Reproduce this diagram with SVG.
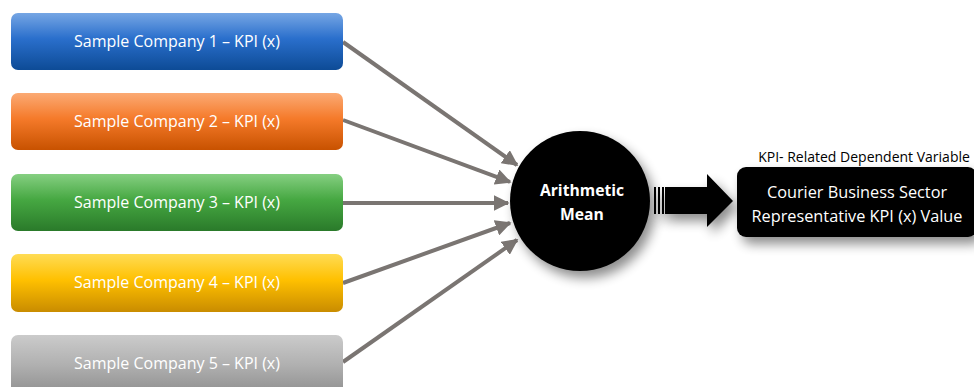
<svg xmlns="http://www.w3.org/2000/svg" width="974" height="387" viewBox="0 0 974 387">
<defs>
<linearGradient id="gBlue" x1="0" y1="0" x2="0" y2="1"><stop offset="0" stop-color="#76a6e4"/><stop offset="0.45" stop-color="#2a6fcc"/><stop offset="1" stop-color="#0d4b96"/></linearGradient>
<linearGradient id="gOrange" x1="0" y1="0" x2="0" y2="1"><stop offset="0" stop-color="#fbaa74"/><stop offset="0.45" stop-color="#f57a2a"/><stop offset="1" stop-color="#c85200"/></linearGradient>
<linearGradient id="gGreen" x1="0" y1="0" x2="0" y2="1"><stop offset="0" stop-color="#86cf82"/><stop offset="0.45" stop-color="#46a842"/><stop offset="1" stop-color="#2a7a2a"/></linearGradient>
<linearGradient id="gYellow" x1="0" y1="0" x2="0" y2="1"><stop offset="0" stop-color="#ffdc55"/><stop offset="0.45" stop-color="#ffc000"/><stop offset="1" stop-color="#c98c00"/></linearGradient>
<linearGradient id="gGray" x1="0" y1="0" x2="0" y2="1"><stop offset="0" stop-color="#cbcbcb"/><stop offset="0.5" stop-color="#b0b0b0"/><stop offset="1" stop-color="#8e8e8e"/></linearGradient>
<filter id="shadow" x="-30%" y="-30%" width="170%" height="170%"><feGaussianBlur in="SourceAlpha" stdDeviation="6"/><feOffset dx="5" dy="7" result="b"/><feComponentTransfer><feFuncA type="linear" slope="0.45"/></feComponentTransfer><feMerge><feMergeNode/><feMergeNode in="SourceGraphic"/></feMerge></filter>
<marker id="ah" viewBox="0 0 10 10" refX="9" refY="5" markerWidth="4" markerHeight="4" markerUnits="strokeWidth" orient="auto"><path d="M0,0 L10,5 L0,10 z" fill="#7a7572"/></marker>
</defs>
<style>
.box{stroke:none}
.lbl{font-family:"Open Sans","Liberation Sans",sans-serif;font-size:16px;fill:#ffffff;text-anchor:middle}
.conn{stroke:#7a7572;stroke-width:4;fill:none;marker-end:url(#ah)}
.mean{font-family:"Open Sans","Liberation Sans",sans-serif;font-size:15.7px;font-weight:bold;fill:#ffffff;text-anchor:middle}
.out{font-family:"Open Sans","Liberation Sans",sans-serif;font-size:16.3px;fill:#ffffff;text-anchor:middle}
.cap{font-family:"Open Sans","Liberation Sans",sans-serif;font-size:14px;fill:#000000;text-anchor:middle}
</style>
<g id="connectors">
<line class="conn" x1="343" y1="42" x2="517" y2="165"/>
<line class="conn" x1="343" y1="120" x2="510" y2="182"/>
<line class="conn" x1="343" y1="203" x2="508" y2="203"/>
<line class="conn" x1="343" y1="283" x2="510" y2="223"/>
<line class="conn" x1="343" y1="362" x2="517" y2="240"/>
</g>
<g id="company1"><rect class="box" x="11" y="13" width="332" height="57" rx="7" fill="url(#gBlue)"/><text class="lbl" x="177" y="47">Sample Company 1 – KPI (x)</text></g>
<g id="company2"><rect class="box" x="11" y="93" width="332" height="57" rx="7" fill="url(#gOrange)"/><text class="lbl" x="177" y="127">Sample Company 2 – KPI (x)</text></g>
<g id="company3"><rect class="box" x="11" y="174" width="332" height="57" rx="7" fill="url(#gGreen)"/><text class="lbl" x="177" y="208">Sample Company 3 – KPI (x)</text></g>
<g id="company4"><rect class="box" x="11" y="254" width="332" height="58" rx="7" fill="url(#gYellow)"/><text class="lbl" x="177" y="288">Sample Company 4 – KPI (x)</text></g>
<g id="company5"><rect class="box" x="11" y="335" width="332" height="60" rx="7" fill="url(#gGray)"/><text class="lbl" x="177" y="369">Sample Company 5 – KPI (x)</text></g>
<g id="mean"><circle cx="580" cy="201" r="70" fill="#000000" filter="url(#shadow)"/><text class="mean" x="582" y="196">Arithmetic</text><text class="mean" x="582" y="220">Mean</text></g>
<g id="blockArrow" filter="url(#shadow)">
<rect x="654" y="187" width="2" height="27" fill="#000"/>
<rect x="658" y="187" width="2" height="27" fill="#000"/>
<rect x="662" y="187" width="2" height="27" fill="#000"/>
<path d="M665,187 L707,187 L707,174 L733,201 L707,227 L707,214 L665,214 Z" fill="#000"/>
</g>
<g id="output"><text class="cap" x="864" y="162">KPI- Related Dependent  Variable</text><rect x="737" y="167" width="240" height="70" rx="9" fill="#000000" filter="url(#shadow)"/><text class="out" x="857" y="198">Courier Business Sector</text><text class="out" x="857" y="222">Representative KPI (x) Value</text></g>
</svg>
